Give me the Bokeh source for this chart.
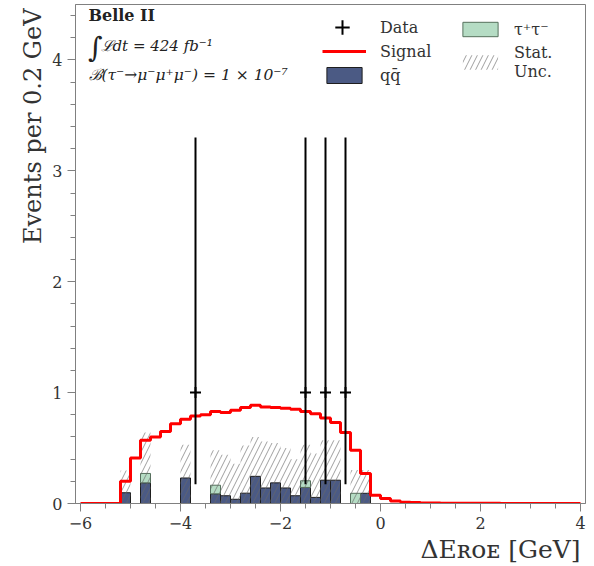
import numpy as np
from bokeh.plotting import figure
from bokeh.models import Range1d, FixedTicker, Legend, LegendItem, Label, Title
from bokeh.embed import file_html
from bokeh.resources import INLINE

# ---------------- data ----------------
bin_width = 0.2
bin_lo = np.round(np.arange(-6.0, 4.0, bin_width), 2)  # 50 bins from -6 to 4

signal = [0, 0, 0, 0,
          0.20, 0.41, 0.57, 0.60, 0.65, 0.72, 0.76, 0.79, 0.80, 0.83,
          0.82, 0.84, 0.865, 0.885, 0.87, 0.865, 0.86, 0.85, 0.83, 0.81,
          0.77, 0.73, 0.64, 0.48, 0.27, 0.075,
          0.045, 0.022, 0.012, 0.008, 0.005, 0.004, 0.003, 0.003, 0.002, 0.002,
          0.002, 0.002, 0.001, 0.001, 0.001, 0.001, 0.001, 0.001, 0.001, 0.001]

qqbar = [0, 0, 0, 0,
         0.097, 0, 0.186, 0, 0, 0, 0.23, 0, 0, 0.087,
         0.07, 0.038, 0.093, 0.245, 0.14, 0.186, 0.14, 0.07, 0.145, 0.055,
         0.21, 0.21, 0, 0, 0.092, 0,
         0, 0, 0, 0, 0, 0, 0, 0, 0, 0,
         0, 0, 0, 0, 0, 0, 0, 0, 0, 0]

tautau = [0, 0, 0, 0,
          0, 0, 0.085, 0, 0, 0, 0, 0, 0, 0.078,
          0, 0, 0, 0, 0, 0, 0, 0, 0.06, 0,
          0, 0, 0, 0.092, 0, 0,
          0, 0, 0, 0, 0, 0, 0, 0, 0, 0,
          0, 0, 0, 0, 0, 0, 0, 0, 0, 0]

stat_unc = [0, 0, 0, 0,
            0.20, 0, 0.37, 0, 0, 0, 0.30, 0, 0, 0.315,
            0.37, 0.32, 0.43, 0.355, 0.42, 0.36, 0.36, 0.33, 0.325, 0.395,
            0.36, 0.36, 0, 0.21, 0.21, 0,
            0, 0, 0, 0, 0, 0, 0, 0, 0, 0,
            0, 0, 0, 0, 0, 0, 0, 0, 0, 0]

data_x = [-3.7, -1.5, -1.1, -0.7]
data_y = [1, 1, 1, 1]
data_err_lo = [0.827, 0.827, 0.827, 0.827]
data_err_hi = [2.30, 2.30, 2.30, 2.30]

x_ticks = [-6, -4, -2, 0, 2, 4]
y_ticks = [0, 1, 2, 3, 4]

# ---------------- figure ----------------
FONT = "DejaVu Serif"
GREY = "#808080"
TXT = "#333333"

p = figure(width=594, height=566, output_backend="svg", toolbar_location=None,
           x_range=Range1d(-6.1, 4.1), y_range=Range1d(0, 4.5),
           min_border_left=75, min_border_right=9, min_border_top=4,
           min_border_bottom=63)
p.grid.visible = False
p.outline_line_color = GREY
p.background_fill_color = "white"
p.border_fill_color = "white"

lo = bin_lo
hi = np.round(bin_lo + bin_width, 2)
qq = np.array(qqbar)
tt = np.array(tautau)
err = np.array(stat_unc)
tot = qq + tt

m_qq = qq > 0
r_qq = p.quad(left=lo[m_qq], right=hi[m_qq], bottom=0, top=qq[m_qq],
              fill_color="#4b5a84", line_color="#1e1e1e", line_width=1)
m_tt = tt > 0
r_tt = p.quad(left=lo[m_tt], right=hi[m_tt], bottom=qq[m_tt], top=tot[m_tt],
              fill_color="#b5dcc4", line_color="#55705c", line_width=1)
m_u = err > 0
r_unc = p.quad(left=lo[m_u], right=hi[m_u], bottom=np.maximum(tot[m_u] - err[m_u], 0),
               top=tot[m_u] + err[m_u], fill_alpha=0, line_alpha=0,
               hatch_pattern="/", hatch_color="#666666", hatch_weight=0.8,
               hatch_scale=11, hatch_alpha=0.8)

edges = list(lo) + [4.0]
sig_ext = list(signal) + [signal[-1]]
r_sig = p.step(x=edges, y=sig_ext, mode="after", line_color="#ff0000", line_width=3)

dy = np.array(data_y, dtype=float)
p.segment(x0=data_x, y0=dy - np.array(data_err_lo), x1=data_x,
          y1=dy + np.array(data_err_hi), line_color="black", line_width=2)
r_data = p.scatter(x=data_x, y=data_y, marker="cross", size=11,
                   line_color="black", line_width=2)

# ---------------- axes ----------------
minus = lambda v: ("\u2212" + str(abs(v))) if v < 0 else str(v)
p.xaxis.ticker = FixedTicker(ticks=x_ticks, minor_ticks=list(np.arange(-6, 4.01, 0.5)))
p.xaxis.major_label_overrides = {v: minus(v) for v in x_ticks}
p.yaxis.ticker = FixedTicker(ticks=y_ticks, minor_ticks=list(np.round(np.arange(0, 4.51, 0.2), 2)))

for ax in (p.xaxis[0], p.yaxis[0]):
    ax.axis_line_color = GREY
    ax.major_tick_line_color = GREY
    ax.minor_tick_line_color = GREY
    ax.major_tick_out = 8
    ax.major_tick_in = 0
    ax.minor_tick_out = 5
    ax.minor_tick_in = 0
    ax.major_label_text_font = FONT
    ax.major_label_text_font_size = "16px"
    ax.major_label_text_color = TXT
    ax.major_label_standoff = 5

# axis titles (aligned to the ends, like the reference)
p.add_layout(Title(text="Events per 0.2 GeV", align="right", text_font=FONT,
                   text_font_size="24px", text_font_style="normal", text_color=TXT,
                   standoff=6, offset=4), "left")
p.add_layout(Title(text="\u0394E\u0280\u1d0f\u1d07 [GeV]", align="right", text_font=FONT,
                   text_font_size="25px", text_font_style="normal", text_color=TXT,
                   standoff=2, offset=5), "below")

# top-left texts
p.add_layout(Label(x=-5.84, y=4.40, text="Belle II", text_font=FONT, text_font_size="16px",
                   text_font_style="bold", text_baseline="middle", text_color="#222222"))
p.add_layout(Label(x=-5.85, y=4.115, text="\u222b", text_font=FONT, text_font_size="28px",
                   text_baseline="middle", text_color="#222222"))
p.add_layout(Label(x=-5.6, y=4.13, text="\u2112dt = 424 fb\u207b\u00b9", text_font=FONT,
                   text_font_size="15px", text_font_style="italic", text_baseline="middle",
                   text_color="#222222"))
p.add_layout(Label(x=-5.84, y=3.86, text="\u212c(\u03c4\u207b\u2192\u03bc\u207b\u03bc\u207a\u03bc\u207b) = 1 \u00d7 10\u207b\u2077",
                   text_font=FONT, text_font_size="15.5px", text_font_style="italic",
                   text_baseline="middle", text_color="#222222"))

# legends
def leg(items, loc, gw, gh, standoff):
    return Legend(items=items, location=loc, border_line_alpha=0, background_fill_alpha=0,
                  padding=0, margin=0, spacing=4, glyph_width=gw, glyph_height=gh,
                  label_height=20, label_standoff=standoff, label_text_font=FONT,
                  label_text_font_size="16px", label_text_color=TXT)

legA = leg([LegendItem(label="Data", renderers=[r_data])], (248, 458), 38, 36, 19)
legB = leg([LegendItem(label="Signal", renderers=[r_sig]),
            LegendItem(label="qq\u0304", renderers=[r_qq])], (247, 418), 44, 20, 14)
legC = leg([LegendItem(label="\u03c4\u207a\u03c4\u207b", renderers=[r_tt]),
            LegendItem(label="Stat.\nUnc.", renderers=[r_unc])], (383, 422), 44, 18, 12)
for l in (legA, legB, legC):
    p.add_layout(l)

open("out.html", "w").write(file_html(p, INLINE))
